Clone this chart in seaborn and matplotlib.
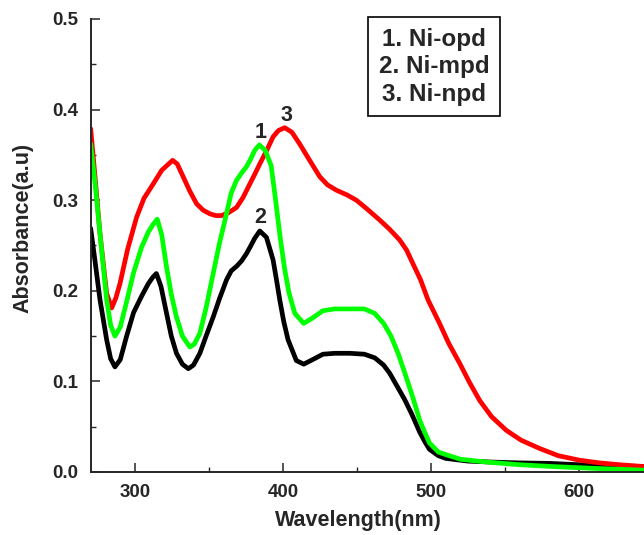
import matplotlib
matplotlib.use("Agg")
import matplotlib.pyplot as plt
import seaborn as sns
import pandas as pd
from matplotlib.ticker import MultipleLocator

# ---- data ----
wl_opd = [270, 273, 276.3, 280.8, 283.5, 286.4, 290, 294.3, 299, 304.4, 309, 312.5, 315, 318,
          321.3, 324.5, 328, 332, 337, 340, 343.8, 348, 352.8, 357, 361.8, 365, 368.6, 372,
          375.3, 378, 380.9, 384, 388, 392, 395, 398, 401, 404, 408, 414, 420, 427, 435, 445,
          455, 462, 468, 473, 478, 483, 488, 492.4, 496, 499, 505, 510.4, 520, 537.4, 560,
          582, 610, 644]
abs_opd = [0.362, 0.318, 0.263, 0.190, 0.162, 0.150, 0.160, 0.188, 0.220, 0.248, 0.265, 0.274,
           0.279, 0.262, 0.226, 0.196, 0.171, 0.150, 0.138, 0.141, 0.153, 0.181, 0.219, 0.252,
           0.285, 0.308, 0.322, 0.330, 0.337, 0.345, 0.355, 0.361, 0.355, 0.338, 0.300, 0.260,
           0.225, 0.198, 0.175, 0.164, 0.170, 0.178, 0.180, 0.180, 0.180, 0.175, 0.164, 0.150,
           0.130, 0.106, 0.081, 0.057, 0.043, 0.032, 0.022, 0.019, 0.014, 0.011, 0.008, 0.006,
           0.004, 0.002]

wl_mpd = [270, 273, 276.3, 280.8, 283.5, 286.4, 290, 294.3, 299, 304.4, 309, 312, 314.4, 317.5,
          321.3, 324.5, 328, 332, 336, 339.5, 343.8, 348, 352.8, 357, 361.8, 365, 368.6, 372,
          375.3, 378, 380.9, 384.3, 388.8, 393.3, 395.5, 397.8, 400.5, 403.4, 409, 414, 420,
          427, 435, 445, 455, 462, 468, 472.1, 477, 482.2, 487, 492.4, 496, 499, 505, 510,
          525, 540, 560, 580, 600, 620, 644]
abs_mpd = [0.269, 0.232, 0.190, 0.146, 0.125, 0.116, 0.124, 0.150, 0.176, 0.194, 0.208, 0.215,
           0.219, 0.205, 0.175, 0.150, 0.131, 0.119, 0.114, 0.118, 0.131, 0.150, 0.171, 0.191,
           0.212, 0.222, 0.227, 0.233, 0.241, 0.249, 0.258, 0.266, 0.259, 0.234, 0.213, 0.190,
           0.166, 0.146, 0.123, 0.119, 0.124, 0.130, 0.131, 0.131, 0.130, 0.126, 0.118, 0.109,
           0.095, 0.080, 0.064, 0.044, 0.033, 0.025, 0.018, 0.015, 0.012, 0.011, 0.010, 0.0095,
           0.008, 0.007, 0.006]

wl_npd = [270, 273, 276.3, 280.8, 284.2, 287, 289.8, 295, 301, 306, 312.3, 318, 325.4, 328.5,
          332.5, 337, 341.6, 346, 350.5, 354.5, 358.5, 363, 368.6, 373, 377.6, 381, 384.3, 389,
          393.3, 397, 401.2, 406, 411.3, 418, 424.8, 430, 436.1, 443, 449.6, 457, 465.4, 472,
          478.9, 483.5, 487.8, 493, 498, 505.8, 512, 519.4, 526, 532.9, 541, 550.9, 561, 573.4,
          586, 600.4, 614, 627.4, 644]
abs_npd = [0.379, 0.325, 0.263, 0.197, 0.181, 0.192, 0.208, 0.246, 0.281, 0.302, 0.318, 0.333,
           0.344, 0.340, 0.326, 0.310, 0.296, 0.289, 0.285, 0.283, 0.283, 0.286, 0.292, 0.303,
           0.318, 0.329, 0.340, 0.355, 0.370, 0.377, 0.380, 0.375, 0.362, 0.344, 0.326, 0.317,
           0.311, 0.306, 0.300, 0.290, 0.278, 0.268, 0.256, 0.245, 0.230, 0.212, 0.190, 0.164,
           0.142, 0.120, 0.099, 0.079, 0.061, 0.046, 0.035, 0.026, 0.018, 0.013, 0.010, 0.008,
           0.006]

legend_lines = ["1. Ni-opd", "2. Ni-mpd", "3. Ni-npd"]
peak_labels = ["1", "2", "3"]
peak_label_x = [384.8, 384.3, 402.3]
peak_label_y = [0.375, 0.281, 0.393]

# ---- plotting ----
sns.set_style("ticks")
plt.rcParams["font.family"] = ["Liberation Sans", "DejaVu Sans"]
plt.rcParams["font.weight"] = "bold"

fig = plt.figure(figsize=(6.44, 5.35), dpi=100)
ax = fig.add_axes([0.1408, 0.1178, 0.8592, 0.8467])

series = [
    ("Ni-mpd", wl_mpd, abs_mpd, "#000000"),
    ("Ni-npd", wl_npd, abs_npd, "#ff0000"),
    ("Ni-opd", wl_opd, abs_opd, "#00ff00"),
]
for name, x, y, c in series:
    df = pd.DataFrame({"Wavelength": x, "Absorbance": y})
    sns.lineplot(data=df, x="Wavelength", y="Absorbance", ax=ax, color=c,
                 linewidth=3.4, sort=False, estimator=None, legend=False,
                 solid_joinstyle="round", solid_capstyle="round")

ax.set_xlim(270, 644)
ax.set_ylim(0, 0.5)
ax.xaxis.set_major_locator(MultipleLocator(100))
ax.xaxis.set_minor_locator(MultipleLocator(50))
ax.yaxis.set_major_locator(MultipleLocator(0.1))
ax.yaxis.set_minor_locator(MultipleLocator(0.05))
ax.set_xticks([300, 400, 500, 600])
ax.set_yticks([0.0, 0.1, 0.2, 0.3, 0.4, 0.5])
ax.set_yticklabels(["0.0", "0.1", "0.2", "0.3", "0.4", "0.5"])

ax.tick_params(which="major", direction="in", length=6.5, width=1.1,
               labelsize=13.5, pad=9)
ax.tick_params(which="minor", direction="in", length=3.6, width=1.0)
for lab in ax.get_xticklabels() + ax.get_yticklabels():
    lab.set_fontweight("bold")

sns.despine(ax=ax)
for s in ["left", "bottom"]:
    ax.spines[s].set_linewidth(1.4)

ax.set_xlabel("Wavelength(nm)", fontsize=15.5, fontweight="bold")
ax.set_ylabel("Absorbance(a.u)", fontsize=15.5, fontweight="bold")
ax.xaxis.set_label_coords(0.483, -0.085)
ax.yaxis.set_label_coords(-0.104, 0.539)

for t, x, y in zip(peak_labels, peak_label_x, peak_label_y):
    ax.text(x, y, t, fontsize=15.5, fontweight="bold", ha="center", va="center")

ax.text(0.6205, 0.895, "\n".join(legend_lines), transform=ax.transAxes,
        fontsize=17.5, fontweight="bold", ha="center", va="center",
        linespacing=1.25, clip_on=False,
        bbox=dict(boxstyle="square,pad=0.42", facecolor="white",
                  edgecolor="black", linewidth=1.2))

fig.savefig("out.png", dpi=100)
